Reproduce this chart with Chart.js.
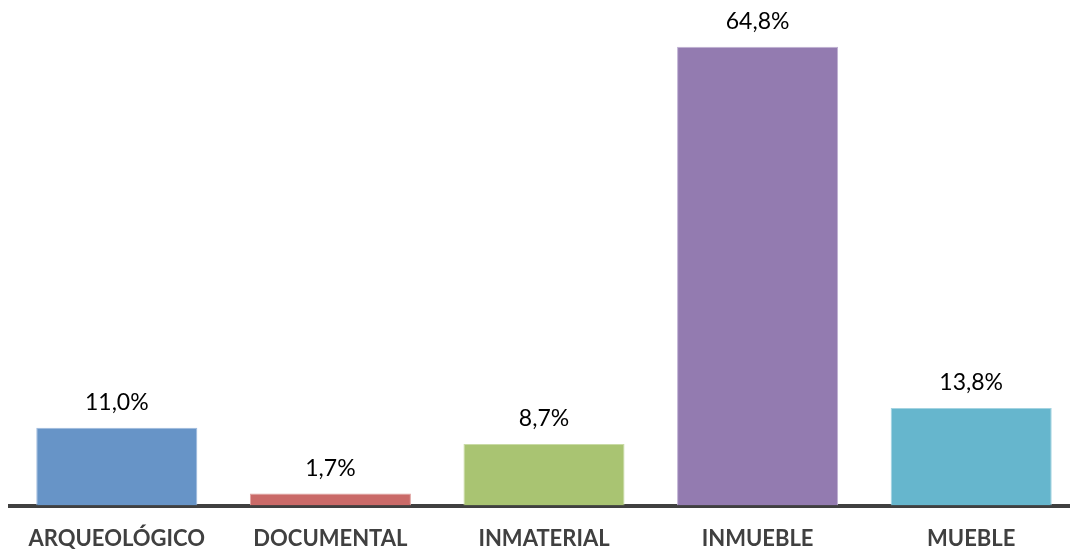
<!DOCTYPE html>
<html>
<head>
<meta charset="utf-8">
<script src="https://cdn.jsdelivr.net/npm/chart.js@4"></script>
<style>
html,body{margin:0;padding:0;background:#fff;overflow:hidden;}
#wrap{position:absolute;left:0;top:0;width:1078px;height:552px;}
</style>
</head>
<body>
<div id="wrap"><canvas id="c" width="1078" height="552"></canvas></div>
<script>
const categories = ["ARQUEOLÓGICO", "DOCUMENTAL", "INMATERIAL", "INMUEBLE", "MUEBLE"];
const values = [11.0, 1.7, 8.7, 64.8, 13.8];
const valueLabels = ["11,0%", "1,7%", "8,7%", "64,8%", "13,8%"];
const barColors = ["#6794C7", "#CA6A68", "#A9C472", "#937BB0", "#66B6CD"];
const barBorders = ["#9DB9DD", "#E0A3A1", "#C9DBA5", "#BFB0D2", "#A3D3E1"];

const labelPlugin = {
  id: 'valueLabels',
  afterDatasetsDraw(chart) {
    const ctx = chart.ctx;
    const meta = chart.getDatasetMeta(0);
    ctx.save();
    ctx.font = '23px Lato, "Open Sans", sans-serif';
    ctx.fillStyle = '#000';
    ctx.textAlign = 'center';
    ctx.textBaseline = 'alphabetic';
    meta.data.forEach((bar, i) => {
      ctx.fillText(valueLabels[i], bar.x, bar.y - 18);
    });
    ctx.restore();
  }
};

new Chart(document.getElementById('c'), {
  type: 'bar',
  data: {
    labels: categories,
    datasets: [{
      data: values,
      backgroundColor: barColors,
      borderColor: barBorders,
      borderWidth: 1,
      barPercentage: 0.754,
      categoryPercentage: 1.0
    }]
  },
  options: {
    responsive: false,
    animation: false,
    layout: { padding: { left: 10, right: 0, top: 10, bottom: -20 } },
    plugins: { legend: { display: false }, tooltip: { enabled: false } },
    scales: {
      x: {
        grid: { display: false, drawTicks: false },
        border: { display: true, color: '#404040', width: 4 },
        ticks: {
          color: '#404040',
          padding: 20,
          font: { family: 'Lato, "Open Sans", sans-serif', size: 22, weight: 'bold' }
        }
      },
      y: {
        display: false,
        min: 0,
        max: 70
      }
    }
  },
  plugins: [labelPlugin]
});
</script>
</body>
</html>
